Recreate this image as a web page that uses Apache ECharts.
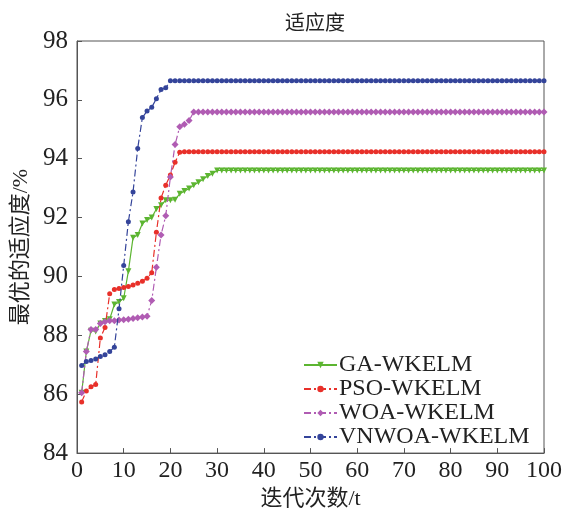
<!DOCTYPE html>
<html>
<head>
<meta charset="utf-8">
<script src="https://cdn.jsdelivr.net/npm/echarts@6/dist/echarts.min.js"></script>
<style>html,body{margin:0;padding:0;background:#fff;}#c{width:570px;height:515px;}</style>
</head>
<body>
<div id="c"></div>
<script>
var seriesNames = ['GA-WKELM', 'PSO-WKELM', 'WOA-WKELM', 'VNWOA-WKELM'];
var iterations = [];
for (var i = 1; i <= 100; i++) iterations.push(i);
var xTicks = [0,10,20,30,40,50,60,70,80,90,100];
var yTicks = [84,86,88,90,92,94,96,98];

var gaValues = [
 86.05,87.45,88.16,88.13,88.40,88.49,88.55,89.05,89.13,89.26,
 90.18,91.32,91.41,91.80,91.92,92.00,92.29,92.42,92.59,92.59,
 92.61,92.81,92.90,92.99,93.10,93.20,93.30,93.41,93.49,93.60,
 93.60,93.60,93.60,93.60,93.60,93.60,93.60,93.60,93.60,93.60,
 93.60,93.60,93.60,93.60,93.60,93.60,93.60,93.60,93.60,93.60,
 93.60,93.60,93.60,93.60,93.60,93.60,93.60,93.60,93.60,93.60,
 93.60,93.60,93.60,93.60,93.60,93.60,93.60,93.60,93.60,93.60,
 93.60,93.60,93.60,93.60,93.60,93.60,93.60,93.60,93.60,93.60,
 93.60,93.60,93.60,93.60,93.60,93.60,93.60,93.60,93.60,93.60,
 93.60,93.60,93.60,93.60,93.60,93.60,93.60,93.60,93.60,93.60
];
var psoValues = [
 85.74,86.11,86.25,86.33,87.91,88.27,89.41,89.56,89.59,89.63,
 89.66,89.71,89.77,89.84,89.94,90.13,91.50,92.67,93.10,93.45,
 93.88,94.22,94.24,94.24,94.24,94.24,94.24,94.24,94.24,94.24,
 94.24,94.24,94.24,94.24,94.24,94.24,94.24,94.24,94.24,94.24,
 94.24,94.24,94.24,94.24,94.24,94.24,94.24,94.24,94.24,94.24,
 94.24,94.24,94.24,94.24,94.24,94.24,94.24,94.24,94.24,94.24,
 94.24,94.24,94.24,94.24,94.24,94.24,94.24,94.24,94.24,94.24,
 94.24,94.24,94.24,94.24,94.24,94.24,94.24,94.24,94.24,94.24,
 94.24,94.24,94.24,94.24,94.24,94.24,94.24,94.24,94.24,94.24,
 94.24,94.24,94.24,94.24,94.24,94.24,94.24,94.24,94.24,94.24
];
var woaValues = [
 86.05,87.45,88.20,88.20,88.40,88.46,88.50,88.50,88.52,88.53,
 88.55,88.57,88.60,88.62,88.65,89.18,90.31,91.41,92.06,93.38,
 94.48,95.09,95.17,95.30,95.59,95.59,95.59,95.59,95.59,95.59,
 95.59,95.59,95.59,95.59,95.59,95.59,95.59,95.59,95.59,95.59,
 95.59,95.59,95.59,95.59,95.59,95.59,95.59,95.59,95.59,95.59,
 95.59,95.59,95.59,95.59,95.59,95.59,95.59,95.59,95.59,95.59,
 95.59,95.59,95.59,95.59,95.59,95.59,95.59,95.59,95.59,95.59,
 95.59,95.59,95.59,95.59,95.59,95.59,95.59,95.59,95.59,95.59,
 95.59,95.59,95.59,95.59,95.59,95.59,95.59,95.59,95.59,95.59,
 95.59,95.59,95.59,95.59,95.59,95.59,95.59,95.59,95.59,95.59
];
var vnwoaValues = [
 86.98,87.11,87.15,87.20,87.28,87.34,87.45,87.60,88.90,90.37,
 91.86,92.87,94.35,95.40,95.62,95.75,96.04,96.35,96.41,96.65,
 96.65,96.65,96.65,96.65,96.65,96.65,96.65,96.65,96.65,96.65,
 96.65,96.65,96.65,96.65,96.65,96.65,96.65,96.65,96.65,96.65,
 96.65,96.65,96.65,96.65,96.65,96.65,96.65,96.65,96.65,96.65,
 96.65,96.65,96.65,96.65,96.65,96.65,96.65,96.65,96.65,96.65,
 96.65,96.65,96.65,96.65,96.65,96.65,96.65,96.65,96.65,96.65,
 96.65,96.65,96.65,96.65,96.65,96.65,96.65,96.65,96.65,96.65,
 96.65,96.65,96.65,96.65,96.65,96.65,96.65,96.65,96.65,96.65,
 96.65,96.65,96.65,96.65,96.65,96.65,96.65,96.65,96.65,96.65
];

function pairs(vals) {
  return iterations.map(function (it, k) { return [it, vals[k]]; });
}

var FONT = '"Liberation Serif", "Times New Roman", "Noto Sans CJK SC", serif';
var dashDot = [7, 3, 2, 3];
var styles = [
  {color: '#5cb531', type: 'solid', symbol: 'path://M0,0 L10,0 L5,9 Z', size: 6},
  {color: '#e8302a', type: dashDot, symbol: 'circle', size: 5},
  {color: '#b05cb3', type: dashDot, symbol: 'diamond', size: 7},
  {color: '#34449a', type: dashDot, symbol: 'circle', size: 5}
];
var allValues = [gaValues, psoValues, woaValues, vnwoaValues];

var chart = echarts.init(document.getElementById('c'), null, {renderer: 'canvas'});
chart.setOption({
  animation: false,
  backgroundColor: '#fff',
  title: {
    text: '适应度', left: 310, top: 10, textAlign: 'center',
    textStyle: {fontFamily: FONT, fontSize: 20, fontWeight: 'normal', color: '#222'}
  },
  legend: {
    orient: 'vertical', left: 298, top: 348, itemGap: 0,
    itemWidth: 33, itemHeight: 8,
    data: seriesNames,
    textStyle: {fontFamily: FONT, fontSize: 24, color: '#222', lineHeight: 24, padding: [0,0,0,-3]}
  },
  grid: {
    left: 77, right: 26, top: 41, bottom: 58,
    show: true, borderColor: '#555', borderWidth: 1, backgroundColor: 'transparent'
  },
  xAxis: {
    type: 'value', min: 0, max: 100, interval: 10,
    name: '迭代次数/t', nameLocation: 'middle', nameGap: 31,
    nameTextStyle: {fontFamily: FONT, fontSize: 22, color: '#222'},
    axisLine: {show: true, lineStyle: {color: '#555', width: 1}},
    axisTick: {show: true, inside: true, length: 5, lineStyle: {color: '#555'}},
    axisLabel: {fontFamily: FONT, fontSize: 24, color: '#222', margin: 6,
      formatter: function (v) { return xTicks.indexOf(v) >= 0 ? String(v) : ''; }},
    splitLine: {show: false}
  },
  yAxis: {
    type: 'value', min: 84, max: 98, interval: 2,
    name: '最优的适应度/%', nameLocation: 'middle', nameGap: 42, nameRotate: 90,
    nameTextStyle: {fontFamily: FONT, fontSize: 22, color: '#222'},
    axisLine: {show: true, lineStyle: {color: '#555', width: 1}},
    axisTick: {show: true, inside: true, length: 5, lineStyle: {color: '#555'}},
    axisLabel: {fontFamily: FONT, fontSize: 25, color: '#222', margin: 9,
      formatter: function (v) { return yTicks.indexOf(v) >= 0 ? String(v) : ''; }},
    splitLine: {show: false}
  },
  series: seriesNames.map(function (name, k) {
    var s = styles[k];
    return {
      name: name, type: 'line', data: pairs(allValues[k]),
      symbol: s.symbol, symbolSize: s.size, showSymbol: true,
      lineStyle: {color: s.color, width: 1.2, type: s.type},
      itemStyle: {color: s.color},
      z: 2 + k
    };
  })
});
</script>
</body>
</html>
